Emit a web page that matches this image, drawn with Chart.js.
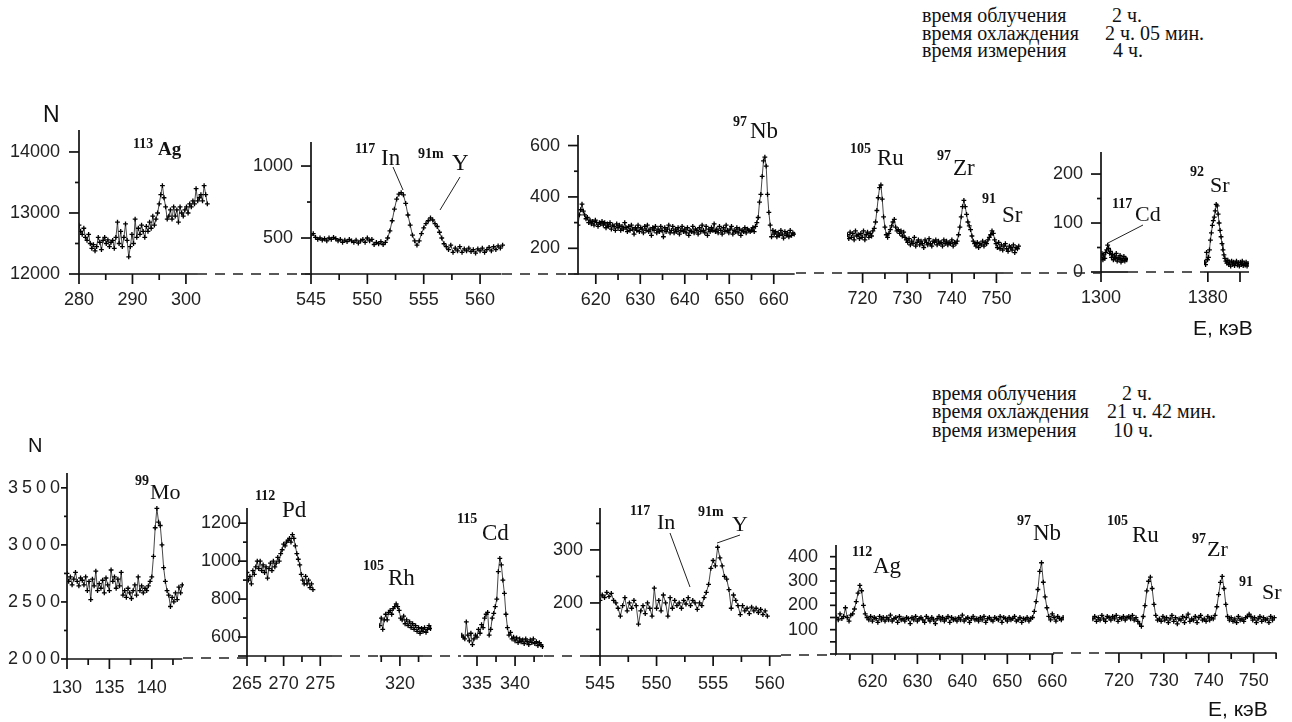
<!DOCTYPE html>
<html><head><meta charset="utf-8">
<script src="https://cdn.jsdelivr.net/npm/chart.js@4.4.0/dist/chart.umd.min.js"></script>
<style>
html,body{margin:0;padding:0;background:#fff}
body{width:1292px;height:722px;overflow:hidden;position:relative;font-family:Arial,"Liberation Sans",sans-serif}
canvas{position:absolute}
.t{position:absolute;white-space:nowrap;color:#111;line-height:1}
.serif{font-family:"Liberation Serif","Times New Roman",serif}
svg{position:absolute;left:0;top:0;pointer-events:none}
</style></head><body>
<script>
// ===== DATA: top row (время охлаждения 2 ч. 05 мин.) =====
const t1_start = 280.0, t1_step = 0.3;   // 113Ag
const t1_counts = [12800,12700,12650,12750,12600,12550,12650,12500,12420,12480,
 12380,12450,12600,12520,12400,12550,12600,12500,12560,12450,
 12520,12550,12420,12600,12850,12500,12700,12450,12600,12820,
 12550,12280,12450,12650,12500,12900,12600,12750,12650,12800,
 12700,12600,12780,12700,12850,12750,12950,12800,12900,13000,
 13150,13300,13450,13250,13100,12900,12950,13050,12900,13100,
 12950,13050,12850,13100,13000,12950,13050,13100,13000,13150,
 13100,13200,13150,13400,13200,13250,13300,13200,13450,13300,13150];
const t2_start = 545.0, t2_step = 0.2;   // 117In, 91mY
const t2_counts = [520,530,505,490,500,485,495,480,500,490,
 505,495,480,490,470,485,475,490,480,470,
 485,465,480,490,470,500,480,490,455,470,
 460,475,455,470,500,550,620,700,770,805,
 815,800,740,660,590,520,480,450,480,530,
 570,600,620,640,625,600,580,540,500,460,
 440,420,450,400,430,410,440,400,425,410,
 430,405,420,395,425,410,430,400,420,435,
 410,440,420,445,430,450];
const t3_start = 616.0, t3_step = 0.3;   // 97Nb
const t3_counts = [290,330,350,372,345,330,315,320,300,310,
 295,305,290,310,300,285,300,295,305,290,
 300,280,295,285,300,275,290,285,270,295,
 280,290,270,285,275,300,280,265,285,270,
 290,275,255,280,270,290,265,280,275,260,
 285,270,290,265,275,250,280,270,285,260,
 275,265,285,270,245,280,265,275,290,260,
 270,285,260,275,265,280,255,270,285,265,
 275,260,280,250,270,265,285,260,275,270,
 255,280,265,290,270,260,285,250,275,265,
 280,270,295,265,275,260,285,270,255,280,
 265,290,270,260,275,285,255,270,265,280,
 260,275,250,270,265,280,260,275,270,265,
 270,280,265,285,300,320,380,410,480,540,
 555,520,410,340,290,245,270,255,265,245,
 260,250,270,255,240,265,250,260,245,270,
 250,260,255];
const t4_start = 716.6, t4_step = 0.3;   // 105Ru, 97Zr, 91Sr
const t4_counts = [250,235,260,240,255,230,265,245,250,235,
 255,240,265,230,250,260,240,255,245,265,
 275,300,345,395,435,445,390,320,280,250,
 240,255,270,285,300,310,280,265,270,255,
 265,245,260,240,230,220,235,210,225,215,
 240,205,220,230,210,225,215,200,230,220,
 210,235,215,205,225,220,230,210,225,215,
 220,205,230,215,225,210,220,215,230,205,
 220,215,225,250,280,320,360,385,360,330,
 300,285,270,245,225,215,205,220,200,215,
 210,225,205,220,215,230,240,250,265,255,
 230,215,200,220,195,210,190,205,215,195,
 185,205,200,190,210,180,200,195,205];
const t5_start = 1300.0, t5_step = 0.3;  // 117Cd
const t5_counts = [30,38,25,35,28,40,45,55,48,38,42,30,36,25,33,28,38,22,30,26,34,20,28,24,32,22,28,25];
const t6_start = 1379.0, t6_step = 0.3;  // 92Sr
const t6_counts = [20,15,40,25,30,45,65,80,95,105,112,125,138,135,118,100,85,72,58,45,
 35,28,22,18,24,15,20,12,22,16,20,13,18,22,14,19,12,20,15,22,13,18,14,20,12,17];

// ===== DATA: bottom row (время охлаждения 21 ч. 42 мин.) =====
const b1_start = 130.0, b1_step = 0.2;   // 99Mo
const b1_counts = [2750,2680,2720,2650,2700,2760,2680,2640,2710,2690,
 2650,2720,2600,2680,2520,2700,2640,2770,2600,2660,
 2620,2690,2580,2710,2650,2600,2780,2680,2720,2620,
 2700,2640,2760,2560,2600,2540,2620,2580,2530,2600,
 2650,2560,2720,2600,2640,2580,2620,2600,2640,2680,
 2720,2900,3150,3320,3200,3170,3000,2800,2680,2600,
 2560,2460,2540,2500,2580,2520,2630,2580,2650];
const b2_start = 265.0, b2_step = 0.2;   // 112Pd
const b2_counts = [940,900,920,880,950,930,970,1000,960,1000,
 950,980,940,970,910,960,990,950,1000,970,
 990,1020,1000,1040,1060,1090,1080,1100,1110,1120,
 1100,1140,1120,1080,1040,1010,980,930,900,880,
 920,880,900,860,880,850];
const b3_start = 317.3, b3_step = 0.2;   // 105Rh
const b3_counts = [660,700,640,690,720,690,730,740,720,750,760,775,760,740,700,690,710,670,690,660,
 680,650,670,640,660,630,650,620,645,630,650,625,640,660,645];
const b4_start = 333.0, b4_step = 0.2;   // 115Cd
const b4_counts = [610,600,590,680,610,580,620,560,590,610,
 600,640,620,665,650,700,720,730,610,640,
 700,725,760,800,945,1015,980,900,830,720,
 650,610,625,590,600,580,595,570,590,575,
 585,565,590,575,560,585,570,590,565,575,
 555,570,560,550];
const b5_start = 545.0, b5_step = 0.2;   // 117In, 91mY
const b5_counts = [205,215,210,220,212,218,205,200,190,175,
 195,210,185,200,190,205,195,160,185,195,
 180,200,190,175,228,190,205,185,215,200,
 175,210,190,205,195,200,190,205,198,210,
 195,205,200,188,200,195,210,220,235,265,
 280,270,305,285,270,250,245,225,190,215,
 205,195,178,195,185,190,180,192,185,190,
 182,188,178,185,175];
const b6_start = 612.0, b6_step = 0.4;   // 112Ag, 97Nb
const b6_counts = [150,140,165,145,155,190,150,135,160,165,
 185,215,250,282,260,200,165,150,
 140,155,135,150,145,130,155,140,150,135,
 150,140,160,135,145,150,130,155,140,145,
 135,150,145,125,150,140,155,135,145,150,
 140,130,155,145,135,150,140,125,145,155,
 140,150,135,145,155,130,150,140,145,135,
 150,140,160,135,145,150,130,145,155,140,
 145,135,150,140,155,130,145,150,140,135,
 150,145,140,155,130,150,145,135,150,140,
 145,155,135,140,150,130,145,140,150,135,
 145,150,175,215,265,340,375,295,235,190,155,
 140,165,150,135,155,145,140,150];
const b7_start = 714.2, b7_step = 0.4;   // 105Ru, 97Zr, 91Sr
const b7_counts = [140,150,130,145,135,155,140,130,150,145,
 135,150,140,155,130,145,140,150,135,145,
 150,140,155,135,145,130,120,110,150,
 195,255,295,312,265,200,155,135,
 140,130,150,135,145,125,140,155,130,145,
 120,140,135,150,125,145,160,130,140,135,
 150,125,145,155,135,140,130,150,135,145,
 140,155,190,240,290,315,265,200,150,135,
 145,130,140,125,150,135,140,130,145,150,
 160,150,
 135,145,125,140,150,130,145,135,140,125,150,135,145];

// ===== TICKS =====
const t1_xTicks=[280,290,300], t1_xMinor=[285,295], t1_yTicks=[12000,13000,14000], t1_yLabels=['12000','13000','14000'], t1_yMinor=[12500,13500];
const t2_xTicks=[545,550,555,560], t2_xMinor=[547.5,552.5,557.5], t2_yTicks=[250,500,1000], t2_yLabels=['','500','1000'], t2_yMinor=[750];
const t3_xTicks=[620,630,640,650,660], t3_xMinor=[625,635,645,655], t3_yTicks=[100,200,400,600], t3_yLabels=['','200','400','600'], t3_yMinor=[300,500];
const t4_xTicks=[720,730,740,750], t4_xMinor=[725,735,745];
const t5_xTicks=[1300], t5_xMinor=[], t5_yTicks=[0,100,200], t5_yLabels=['0','100','200'], t5_yMinor=[50,150];
const t6_xTicks=[1380,1390], t6_xLabels=['1380',''], t6_xMinor=[];
const b1_xTicks=[130,135,140], b1_xMinor=[132.5,137.5,142.5], b1_yTicks=[2000,2500,3000,3500], b1_yLabels=['2000','2500','3000','3500'], b1_yMinor=[2250,2750,3250];
const b2_xTicks=[265,270,275], b2_xMinor=[267.5,272.5], b2_yTicks=[500,600,800,1000,1200], b2_yLabels=['','600','800','1000','1200'], b2_yMinor=[700,900,1100];
const b3_xTicks=[320], b3_xMinor=[317.5,322.5];
const b4_xTicks=[335,340], b4_xMinor=[337.5,342.5];
const b5_xTicks=[545,550,555,560], b5_xMinor=[547.5,552.5,557.5], b5_yTicks=[100,200,300], b5_yLabels=['','200','300'], b5_yMinor=[150,250,350];
const b6_xTicks=[620,630,640,650,660], b6_xMinor=[615,625,635,645,655], b6_yTicks=[0,100,200,300,400], b6_yLabels=['','100','200','300','400'], b6_yMinor=[50,150,250,350];
const b7_xTicks=[720,730,740,750], b7_xMinor=[725,735,745,755];

// ===== LAYOUT (pixel frames of each panel) =====
const panels = [
 {n:t1_counts,s:t1_start,d:t1_step,xr:[280,304.5],px:[79,210],yr:[12000,14360],py:[274,130],xLine:[280,302.1],hasY:true,xT:t1_xTicks,xM:t1_xMinor,yT:t1_yTicks,yL:t1_yLabels,yM:t1_yMinor,yPad:19},
 {n:t2_counts,s:t2_start,d:t2_step,xr:[545,562.3],px:[311,506],yr:[250,1167],py:[274,142],xLine:[545,561.9],hasY:true,xT:t2_xTicks,xM:t2_xMinor,yT:t2_yTicks,yL:t2_yLabels,yM:t2_yMinor,yPad:18},
 {n:t3_counts,s:t3_start,d:t3_step,xr:[616,665],px:[578,796],yr:[100,641],py:[274,135],xLine:[616,664.7],hasY:true,xT:t3_xTicks,xM:t3_xMinor,yT:t3_yTicks,yL:t3_yLabels,yM:t3_yMinor,yPad:18},
 {n:t4_counts,s:t4_start,d:t4_step,xr:[716.5,755.5],px:[847,1021],yr:[100,641],py:[273,135],xLine:[716.6,751.5],hasY:false,xT:t4_xTicks,xM:t4_xMinor},
 {n:t5_counts,s:t5_start,d:t5_step,xr:[1300,1308.5],px:[1101,1128],yr:[0,245],py:[272,152],xLine:[1300,1308.5],hasY:true,xT:t5_xTicks,xM:t5_xMinor,yT:t5_yTicks,yL:t5_yLabels,yM:t5_yMinor,yPad:18},
 {n:t6_counts,s:t6_start,d:t6_step,xr:[1378.8,1392.8],px:[1204,1249],yr:[0,245],py:[272,152],xLine:[1378.8,1392.8],hasY:false,xT:t6_xTicks,xLab:t6_xLabels,xM:t6_xMinor},
 {n:b1_counts,s:b1_start,d:b1_step,xr:[130,143.8],px:[67,184],yr:[2000,3630],py:[659,473],xLine:[130,143.6],hasY:true,xT:b1_xTicks,xM:b1_xMinor,yT:b1_yTicks,yL:b1_yLabels,yM:b1_yMinor,yPad:3,xPad:18,yLS:'4px',yTick:6,yMinLen:3},
 {n:b2_counts,s:b2_start,d:b2_step,xr:[265,276.6],px:[247,332],yr:[500,1280],py:[656,508],xLine:[265,276.6],hasY:true,xT:b2_xTicks,xM:b2_xMinor,yT:b2_yTicks,yL:b2_yLabels,yM:b2_yMinor,yPad:6,xPad:17,yTick:9,yMinLen:4},
 {n:b3_counts,s:b3_start,d:b3_step,xr:[317.2,324.3],px:[379,432],yr:[500,1280],py:[656,508],xLine:[317.3,323],hasY:false,xT:b3_xTicks,xM:b3_xMinor,xPad:17},
 {n:b4_counts,s:b4_start,d:b4_step,xr:[332.9,343.8],px:[461,544],yr:[500,1280],py:[656,508],xLine:[333.2,343.7],hasY:false,xT:b4_xTicks,xM:b4_xMinor,xPad:17},
 {n:b5_counts,s:b5_start,d:b5_step,xr:[545,561],px:[600,781],yr:[100,379],py:[656,508],xLine:[545,561],hasY:true,xT:b5_xTicks,xM:b5_xMinor,yT:b5_yTicks,yL:b5_yLabels,yM:b5_yMinor,yPad:17,xPad:17},
 {n:b6_counts,s:b6_start,d:b6_step,xr:[611.9,662.6],px:[836,1064],yr:[0,448],py:[654,545],xLine:[611.9,660.4],hasY:true,xT:b6_xTicks,xM:b6_xMinor,yT:b6_yTicks,yL:b6_yLabels,yM:b6_yMinor,yPad:18,xPad:17,yTick:6,yMinLen:6},
 {n:b7_counts,s:b7_start,d:b7_step,xr:[714,755.2],px:[1092,1277],yr:[0,448],py:[653,544],xLine:[716.9,755.1],hasY:false,xT:b7_xTicks,xM:b7_xMinor,xPad:17}
];

const FONT = {family:'Arial, "Liberation Sans", sans-serif', size:18};
function build(p){
  const padL=80,padR=40,padT=44,padB=44;
  const x0=p.px[0], x1=p.px[1], yTop=p.py[1], yBot=p.py[0];
  const W=x1-x0+padL+padR, H=yBot-yTop+padT+padB;
  const cv=document.createElement('canvas');
  cv.width=W; cv.height=H;
  Object.assign(cv.style,{left:(x0-padL)+'px',top:(yTop-padT)+'px',width:W+'px',height:H+'px'});
  document.body.appendChild(cv);
  const pts=p.n.map((v,i)=>({x:+(p.s+i*p.d).toFixed(2),y:v}));
  const xLab=p.xLab||p.xT.map(String);
  const xMap=new Map(p.xT.map((v,i)=>[v,xLab[i]]));
  const xScaleTicks=[...new Set([p.xr[0],...p.xT,p.xr[1]])].sort((a,b)=>a-b);
  const yT=p.hasY?p.yT:[p.yr[0]], yL=p.hasY?p.yL:[''];
  const yMap=new Map(yT.map((v,i)=>[v,yL[i]]));
  const axes={id:'axes',afterDraw(chart){
    const ctx=chart.ctx, X=chart.scales.x, Y=chart.scales.y;
    const yb=Y.getPixelForValue(p.yr[0]), xl=X.getPixelForValue(p.xr[0]);
    ctx.save(); ctx.strokeStyle='#111'; ctx.lineWidth=1.7;
    const L=(a,b,c,d)=>{ctx.beginPath();ctx.moveTo(a,b);ctx.lineTo(c,d);ctx.stroke();};
    L(X.getPixelForValue(p.xLine[0]),yb,X.getPixelForValue(p.xLine[1]),yb);
    p.xT.forEach(v=>{const q=X.getPixelForValue(v);L(q,yb,q,yb+10);});
    p.xM.forEach(v=>{const q=X.getPixelForValue(v);L(q,yb,q,yb+6);});
    if(p.hasY){
      L(xl,yb+0.8,xl,Y.getPixelForValue(p.yr[1]));
      p.yT.forEach(v=>{const q=Y.getPixelForValue(v);L(xl-(p.yTick||10),q,xl,q);});
      p.yM.forEach(v=>{const q=Y.getPixelForValue(v);L(xl-(p.yMinLen||4),q,xl,q);});
    }
    ctx.restore();
  }};
  new Chart(cv,{type:'line',
    data:{datasets:[{data:pts,borderColor:'#333',borderWidth:0.9,pointStyle:'cross',pointRadius:2.4,
      pointBorderWidth:1.3,pointBorderColor:'#000',pointBackgroundColor:'#000',fill:false,tension:0}]},
    options:{animation:false,responsive:false,events:[],
      layout:{padding:{left:0,right:padR,top:padT,bottom:0}},
      plugins:{legend:{display:false},tooltip:{enabled:false}},
      scales:{
        x:{type:'linear',min:p.xr[0],max:p.xr[1],afterFit:s=>{s.height=padB;},
           afterBuildTicks:s=>{s.ticks=xScaleTicks.map(v=>({value:v}));},
           grid:{display:false,drawTicks:false},border:{display:false},
           ticks:{autoSkip:false,maxRotation:0,minRotation:0,padding:p.xPad||15,color:'#222',font:FONT,
                  callback:(v)=>xMap.get(v)||''}},
        y:{type:'linear',min:p.yr[0],max:p.yr[1],
           afterFit:s=>{
             s.width=padL;
             if(p.yLS && !s._lsPatched){
               const orig=s.drawLabels.bind(s);
               s.drawLabels=(area)=>{s.ctx.save(); s.ctx.letterSpacing=p.yLS; orig(area); s.ctx.restore();};
               s._lsPatched=true;
             }
           },
           afterBuildTicks:s=>{s.ticks=yT.map(v=>({value:v}));},
           grid:{display:false,drawTicks:false},border:{display:false},
           ticks:{display:!!p.hasY,autoSkip:false,padding:p.yPad||18,color:'#222',font:FONT,
                  callback:(v)=>yMap.get(v)||''}}
      }},
    plugins:[axes]});
}
panels.forEach(build);

// ===== TEXT =====
function txt(s,x,capTop,size,opts={}){
  const e=document.createElement('div'); e.className='t'+(opts.serif?' serif':'');
  e.textContent=s; e.style.left=x+'px';
  e.style.top=(capTop-(opts.serif?0.18:0.13)*size)+'px';
  e.style.fontSize=size+'px'; if(opts.bold) e.style.fontWeight='bold';
  document.body.appendChild(e);
}
// isotope labels: [mass, symbol, massX, massTop, symX, symTop, symSize, bold]
const isoLabels=[
 ['113','Ag',133,140,158,142,19,true],
 ['117','In',355,145,381,150,23],
 ['91m','Y',418,150,452,155,23],
 ['97','Nb',733,118,750,123,23],
 ['105','Ru',850,145,877,150,23],
 ['97','Zr',937,152,953,160,23],
 ['91','Sr',982,195,1002,207,23],
 ['117','Cd',1112,200,1135,207,22],
 ['92','Sr',1190,168,1210,178,22],
 ['99','Mo',135,477,150,485,22],
 ['112','Pd',255,492,282,502,23],
 ['105','Rh',363,562,388,570,23],
 ['115','Cd',457,515,482,525,23],
 ['117','In',630,507,657,515,22],
 ['91m','Y',698,508,732,517,22],
 ['112','Ag',852,548,873,558,23],
 ['97','Nb',1017,517,1033,525,23],
 ['105','Ru',1107,517,1132,527,23],
 ['97','Zr',1192,535,1207,542,22],
 ['91','Sr',1239,578,1262,585,22]
];
isoLabels.forEach(a=>{txt(a[0],a[2],a[3],14,{serif:true,bold:true});txt(a[1],a[4],a[5],a[6],{serif:true,bold:!!a[7]});});

txt('N',43,106,23); txt('N',28,438,20);
txt('E, кэВ',1193,320,21); txt('E, кэВ',1208,701,21);

const legTop=[['время облучения','2 ч.'],['время охлаждения','2 ч. 05 мин.'],['время измерения','4 ч.']];
const legBot=[['время облучения','2 ч.'],['время охлаждения','21 ч. 42 мин.'],['время измерения','10 ч.']];
const legTopY=[9,27,44], legTopVX=[1112,1105,1113];
const legBotY=[387,405,424], legBotVX=[1122,1107,1113];
legTop.forEach((r,i)=>{txt(r[0],922,legTopY[i],20,{serif:true});txt(r[1],legTopVX[i],legTopY[i],20,{serif:true});});
legBot.forEach((r,i)=>{txt(r[0],932,legBotY[i],20,{serif:true});txt(r[1],legBotVX[i],legBotY[i],20,{serif:true});});

// ===== dashed baselines & leader lines =====
const dashSegs=[[197,311,274],[502,578,274],[796,847,273],[1003,1101,273],[1128,1204,272],
 [183,247,658],[332,379,656],[422,461,656],[544,600,656],[781,836,655],[1053,1105,653]];
const leaders=[[393,167,403,190],[460,177,440,210],[1143,225,1108,243],[670,533,690,587],[740,535,717,543]];
let svg='<svg width="1292" height="722" xmlns="http://www.w3.org/2000/svg">';
dashSegs.forEach(s=>{svg+=`<line x1="${s[0]}" y1="${s[2]}" x2="${s[1]}" y2="${s[2]}" stroke="#222" stroke-width="1.6" stroke-dasharray="10 8"/>`;});
leaders.forEach(l=>{svg+=`<line x1="${l[0]}" y1="${l[1]}" x2="${l[2]}" y2="${l[3]}" stroke="#222" stroke-width="1"/>`;});
svg+='</svg>';
document.body.insertAdjacentHTML('beforeend',svg);
</script>
</body></html>
